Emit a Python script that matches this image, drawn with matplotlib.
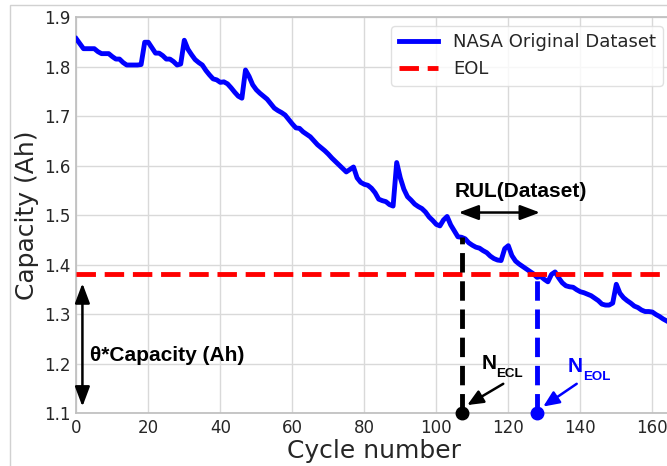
import matplotlib
matplotlib.use("Agg")
import matplotlib.pyplot as plt
from matplotlib.patches import Rectangle

# Discharge capacity per cycle (Ah)
capacity = [
    1.856, 1.846, 1.836, 1.836, 1.836, 1.836, 1.830, 1.826, 1.826, 1.826,
    1.820, 1.815, 1.815, 1.808, 1.803, 1.803, 1.803, 1.803, 1.804, 1.849,
    1.849, 1.838, 1.827, 1.827, 1.822, 1.815, 1.815, 1.810, 1.803, 1.805,
    1.853, 1.835, 1.824, 1.814, 1.808, 1.803, 1.792, 1.783, 1.775, 1.773,
    1.768, 1.769, 1.765, 1.757, 1.748, 1.740, 1.736, 1.793, 1.780, 1.763,
    1.753, 1.746, 1.740, 1.734, 1.725, 1.716, 1.711, 1.707, 1.702, 1.693,
    1.684, 1.676, 1.675, 1.668, 1.663, 1.658, 1.650, 1.642, 1.636, 1.630,
    1.623, 1.615, 1.608, 1.601, 1.594, 1.587, 1.592, 1.597, 1.575, 1.566,
    1.562, 1.560, 1.554, 1.545, 1.532, 1.529, 1.527, 1.521, 1.518, 1.606,
    1.575, 1.552, 1.537, 1.530, 1.522, 1.517, 1.513, 1.506, 1.496, 1.489,
    1.481, 1.478, 1.490, 1.497, 1.480, 1.468, 1.456, 1.455, 1.452, 1.444,
    1.439, 1.435, 1.433, 1.428, 1.424, 1.417, 1.412, 1.409, 1.408, 1.432,
    1.438, 1.418, 1.407, 1.401, 1.396, 1.391, 1.386, 1.381, 1.374, 1.376,
    1.370, 1.365, 1.380, 1.385, 1.373, 1.363, 1.357, 1.355, 1.354, 1.349,
    1.345, 1.343, 1.340, 1.337, 1.332, 1.327, 1.320, 1.318, 1.318, 1.322,
    1.360, 1.342, 1.333, 1.327, 1.322, 1.316, 1.313, 1.308, 1.305, 1.305,
    1.304, 1.299, 1.295, 1.290, 1.286, 1.282, 1.278, 1.275,
]
cycles = list(range(len(capacity)))

eol_capacity = 1.38
n_ecl = 107
n_eol = 128
x_ticks = [0, 20, 40, 60, 80, 100, 120, 140, 160]
y_ticks = [1.1, 1.2, 1.3, 1.4, 1.5, 1.6, 1.7, 1.8, 1.9]

plt.rcParams.update({
    "font.family": ["DejaVu Sans"],
    "text.color": "0.15",
    "axes.labelcolor": "0.15",
    "xtick.color": "0.15",
    "ytick.color": "0.15",
    "axes.edgecolor": "0.75",
    "axes.linewidth": 1.25,
    "grid.color": "0.85",
    "grid.linewidth": 1.0,
    "xtick.major.size": 0,
    "ytick.major.size": 0,
})

W, H = 667, 466
fig = plt.figure(figsize=(W / 100, H / 100), dpi=100)

# thin frame around the figure
fig.patches.append(Rectangle((10 / W, -0.05), 1.2, 1.05 - 5 / H,
                             transform=fig.transFigure, fill=False,
                             edgecolor="0.82", linewidth=1.0, zorder=0))

ax = fig.add_axes([76.3 / W, 1 - 413 / H, (672 - 76.3) / W, (413 - 17) / H])
ax.set_facecolor("white")
ax.grid(True, zorder=0)
ax.set_axisbelow(True)

dash = (0, (4.0, 1.8))
ax.plot(cycles, capacity, color="blue", linewidth=3.5, label="NASA Original Dataset",
        zorder=3, solid_joinstyle="round")
ax.axhline(eol_capacity, color="red", linewidth=3.5, linestyle=dash,
           label="EOL", zorder=3)

# cycle markers at the bottom of the axis
ax.plot([n_ecl, n_ecl], [1.1, capacity[n_ecl]], color="black", linewidth=3.5,
        linestyle=dash, zorder=4)
ax.plot([n_eol, n_eol], [1.1, eol_capacity], color="blue", linewidth=3.5,
        linestyle=dash, zorder=4)
ax.plot([n_ecl], [1.1], "o", color="black", markersize=9, clip_on=False, zorder=6)
ax.plot([n_eol], [1.1], "o", color="blue", markersize=9, clip_on=False, zorder=6)

bold = dict(family=["Liberation Sans", "DejaVu Sans"], fontweight="bold")

# RUL span
ax.annotate("", xy=(n_ecl - 0.8, 1.505), xytext=(n_eol + 0.8, 1.505),
            arrowprops=dict(arrowstyle="<|-|>,head_length=0.8,head_width=0.3",
                            mutation_scale=15, color="black", lw=1.8,
                            shrinkA=0, shrinkB=0), zorder=5)
ax.text(123.5, 1.547, "RUL(Dataset)", ha="center", va="center", fontsize=15,
        color="black", **bold)

# threshold span
ax.annotate("", xy=(1.7, 1.113), xytext=(1.7, 1.362),
            arrowprops=dict(arrowstyle="<|-|>,head_length=0.8,head_width=0.3",
                            mutation_scale=15, color="black", lw=1.8,
                            shrinkA=0, shrinkB=0), zorder=5)
ax.text(3.8, 1.217, "θ*Capacity (Ah)", ha="left", va="center", fontsize=15,
        color="black", **bold)


def cycle_label(x, y, sub, color):
    ax.text(x, y, "N", ha="left", va="baseline", fontsize=15, color=color, **bold)
    ax.annotate(sub, xy=(x, y), xytext=(10.6, -6), textcoords="offset points",
                ha="left", va="baseline", fontsize=9.6, color=color, **bold)


# labels for the two cycle markers
cycle_label(112.6, 1.189, "ECL", "black")
ax.annotate("", xy=(108.6, 1.116), xytext=(118.6, 1.159),
            arrowprops=dict(arrowstyle="-|>,head_length=0.8,head_width=0.35",
                            mutation_scale=12, color="black", lw=1.8,
                            shrinkA=0, shrinkB=0), zorder=5)
cycle_label(136.6, 1.183, "EOL", "blue")
ax.annotate("", xy=(129.7, 1.113), xytext=(139.0, 1.159),
            arrowprops=dict(arrowstyle="-|>,head_length=0.8,head_width=0.35",
                            mutation_scale=12, color="blue", lw=1.8,
                            shrinkA=0, shrinkB=0), zorder=5)

ax.set_xlim(0, (672 - 76.3) / 3.6)
ax.set_ylim(1.1, 1.9)
ax.set_xticks(x_ticks)
ax.set_yticks(y_ticks)
ax.tick_params(labelsize=12, pad=4)
ax.set_xlabel("Cycle number", fontsize=18, labelpad=2)
ax.set_ylabel("Capacity (Ah)", fontsize=18, labelpad=4)
for side in ("left", "bottom", "top", "right"):
    ax.spines[side].set_color("0.75")

leg = ax.legend(loc="upper right", fontsize=13, frameon=True, fancybox=True,
                framealpha=0.8, edgecolor="0.85", handlelength=2.2,
                borderaxespad=0.5)

fig.savefig("out.png", dpi=100)
